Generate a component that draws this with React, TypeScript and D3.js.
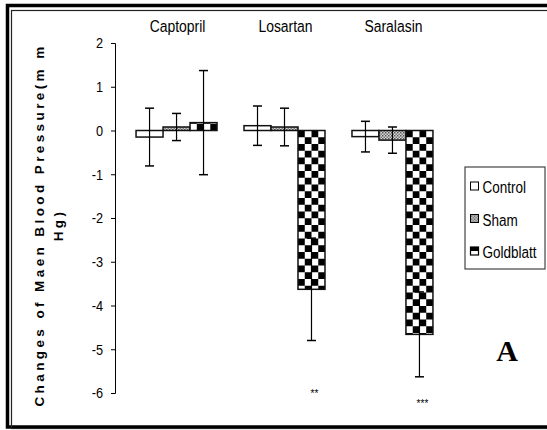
import React, { useEffect, useRef } from "react";
import * as d3 from "d3";

const drugs = ["Captopril", "Losartan", "Saralasin"];
const groups = ["Control", "Sham", "Goldblatt"];
const means = [
  [-0.15, 0.08, 0.18],
  [0.11, 0.08, -3.63],
  [-0.14, -0.22, -4.66],
];
const errors = [
  [0.66, 0.31, 1.19],
  [0.45, 0.43, 1.17],
  [0.35, 0.3, 0.97],
];
const stars = ["", "**", "***"];
const yTicks = [2, 1, 0, -1, -2, -3, -4, -5, -6];

const sans = "'Liberation Sans', Arial, sans-serif";
// the source used a condensed face, so text is squeezed horizontally
const squeeze = 0.82;

const App = () => {
  const svgRef = useRef<SVGSVGElement>(null);
  useEffect(() => {
    const svg = d3.select(svgRef.current);
    svg.selectAll("*").remove();
    const width = 547;
    const height = 430;

    const defs = svg.append("defs");
    const sham = defs.append("pattern").attr("id", "sham")
      .attr("patternUnits", "userSpaceOnUse").attr("width", 3).attr("height", 3);
    sham.append("rect").attr("width", 3).attr("height", 3).attr("fill", "#d8d8d8");
    sham.append("rect").attr("width", 1.5).attr("height", 1.5).attr("fill", "#555");
    sham.append("rect").attr("x", 1.5).attr("y", 1.5).attr("width", 1.5).attr("height", 1.5).attr("fill", "#777");
    const check = defs.append("pattern").attr("id", "check")
      .attr("patternUnits", "userSpaceOnUse").attr("width", 13.5).attr("height", 13.5)
      .attr("x", 0).attr("y", 130.5);
    check.append("rect").attr("width", 13.5).attr("height", 13.5).attr("fill", "#fff");
    check.append("rect").attr("width", 6.75).attr("height", 6.75).attr("fill", "#000");
    check.append("rect").attr("x", 6.75).attr("y", 6.75).attr("width", 6.75).attr("height", 6.75).attr("fill", "#000");
    const fills = ["#fff", "url(#sham)", "url(#check)"];

    // frame
    svg.append("rect").attr("width", width).attr("height", height).attr("fill", "#fff");
    svg.append("rect").attr("x", 7.5).attr("y", 5.5).attr("width", 600).attr("height", 421.5)
      .attr("fill", "none").attr("stroke", "#000").attr("stroke-width", 3.5);
    svg.append("rect").attr("x", 11.5).attr("y", 10.5).attr("width", 600).attr("height", 418)
      .attr("fill", "none").attr("stroke", "#222").attr("stroke-width", 1.2);

    const x = d3.scaleBand().domain(drugs).range([115, 454]).paddingInner(0.25).paddingOuter(0.195);
    const xs = d3.scaleBand().domain(groups).range([0, x.bandwidth()]);
    const y = d3.scaleLinear().domain([-6, 2]).range([393, 43]);

    const yAxis = svg.append("g")
      .attr("transform", "translate(115,0)")
      .call(d3.axisLeft(y).tickValues(yTicks).tickSize(4).tickPadding(7).tickFormat((d) => String(d)));
    yAxis.select(".domain").attr("stroke", "#000");
    yAxis.selectAll("text").attr("font-family", sans).attr("font-size", 15).attr("fill", "#000")
      .attr("transform", "scale(0.85,1)").attr("dx", "-0.2em");

    drugs.forEach((drug, i) => {
      const g = svg.append("g").attr("transform", `translate(${x(drug)},0)`);
      g.selectAll("rect.bar")
        .data(groups)
        .join("rect")
        .attr("class", "bar")
        .attr("x", (d) => xs(d))
        .attr("width", xs.bandwidth())
        .attr("y", (d, j) => y(Math.max(0, means[i][j])))
        .attr("height", (d, j) => Math.abs(y(means[i][j]) - y(0)))
        .attr("fill", (d, j) => fills[j])
        .attr("stroke", "#111")
        .attr("stroke-width", 1.5);
      groups.forEach((grp, j) => {
        const cx = xs(grp) + xs.bandwidth() / 2;
        const lo = y(means[i][j] - errors[i][j]);
        const hi = y(means[i][j] + errors[i][j]);
        g.append("line").attr("x1", cx).attr("x2", cx).attr("y1", lo).attr("y2", hi)
          .attr("stroke", "#000").attr("stroke-width", 1.2);
        [lo, hi].forEach((v) => {
          g.append("line").attr("x1", cx - 4.5).attr("x2", cx + 4.5).attr("y1", v).attr("y2", v)
            .attr("stroke", "#000").attr("stroke-width", 1.5);
        });
      });
      svg.append("text")
        .attr("transform", `translate(${x(drug) + x.bandwidth() / 2 + 1},32) scale(${squeeze},1)`)
        .attr("text-anchor", "middle")
        .attr("font-family", sans)
        .attr("font-size", 17)
        .text(drug);
      if (stars[i]) {
        svg.append("text")
          .attr("x", x(drug) + xs("Goldblatt") + xs.bandwidth() / 2 + 3)
          .attr("y", i === 1 ? 397 : 407)
          .attr("text-anchor", "middle")
          .attr("font-family", "Arial, sans-serif")
          .attr("font-size", 10)
          .text(stars[i]);
      }
    });

    // y label
    const yl = svg.append("text")
      .attr("transform", "translate(0,225) rotate(-90)")
      .attr("text-anchor", "middle")
      .attr("font-family", sans)
      .attr("font-weight", "bold")
      .attr("font-size", 13.5)
      .attr("letter-spacing", 3.4);
    yl.append("tspan").attr("x", 0).attr("y", 43.5).text("Changes of Maen Blood Pressure(m m");
    yl.append("tspan").attr("x", 0).attr("y", 63).text("Hg)");

    // legend
    const lg = svg.append("g").attr("transform", "translate(465,167)");
    lg.append("rect").attr("width", 80).attr("height", 102)
      .attr("fill", "#fff").attr("stroke", "#444").attr("stroke-width", 1.2);
    groups.forEach((grp, j) => {
      const row = lg.append("g").attr("transform", `translate(0,${19 + j * 32.5})`);
      if (j === 2) {
        row.append("rect").attr("x", 5.5).attr("y", -4).attr("width", 8).attr("height", 8)
          .attr("fill", "#fff").attr("stroke", "#000").attr("stroke-width", 1.2);
        row.append("rect").attr("x", 5.5).attr("y", -4).attr("width", 8).attr("height", 4).attr("fill", "#000");
      } else {
        row.append("rect").attr("x", 5.5).attr("y", -4).attr("width", 8).attr("height", 8)
          .attr("fill", fills[j]).attr("stroke", "#000").attr("stroke-width", 1);
      }
      row.append("text")
        .attr("transform", `translate(17.5,7) scale(${squeeze},1)`)
        .attr("font-family", sans).attr("font-size", 16.5)
        .text(grp);
    });

    svg.append("text")
      .attr("x", 507).attr("y", 361)
      .attr("text-anchor", "middle")
      .attr("font-family", "'Liberation Serif', 'Times New Roman', serif")
      .attr("font-weight", "bold")
      .attr("font-size", 30)
      .text("A");
  }, []);
  return (
    <svg ref={svgRef} width={547} height={430}
      style={{ position: "absolute", left: 0, top: 0 }}></svg>
  );
};

export default App;
